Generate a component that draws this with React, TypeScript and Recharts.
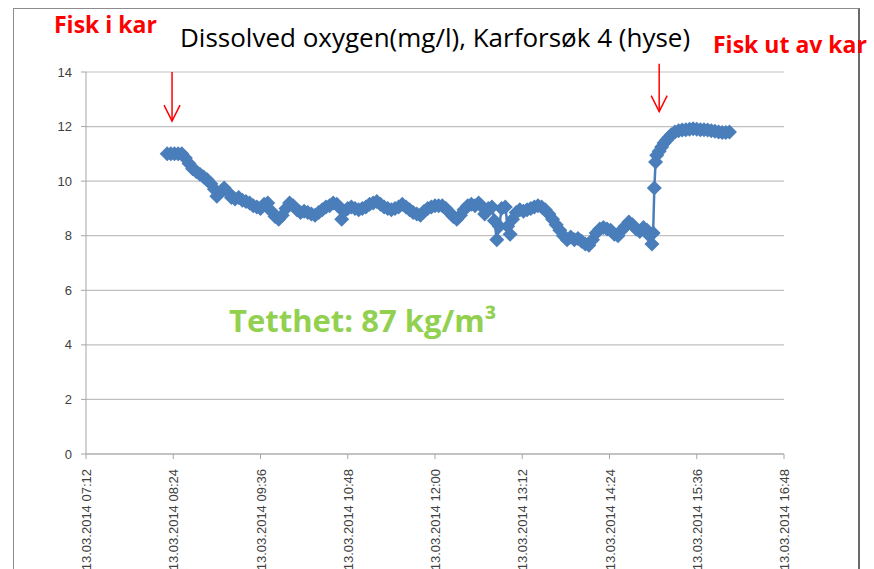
import {
  CartesianGrid,
  Line,
  LineChart,
  ReferenceLine,
  XAxis,
  YAxis,
} from "recharts";

// Logged readings, 13.03.2014 (time of day -> dissolved oxygen, mg/l)
const times = [
  "08:19", "08:22", "08:25", "08:28", "08:31", "08:34", "08:37", "08:40", "08:43", "08:46",
  "08:49", "08:52", "08:55", "08:58", "09:00", "09:03", "09:06", "09:09", "09:12", "09:15",
  "09:18", "09:21", "09:24", "09:27", "09:30", "09:33", "09:36", "09:39", "09:42", "09:45",
  "09:48", "09:51", "09:54", "09:57", "10:00", "10:03", "10:06", "10:09", "10:12", "10:15",
  "10:18", "10:21", "10:24", "10:27", "10:30", "10:33", "10:36", "10:39", "10:42", "10:43",
  "10:45", "10:48", "10:51", "10:54", "10:57", "11:00", "11:03", "11:06", "11:09", "11:12",
  "11:15", "11:18", "11:21", "11:24", "11:27", "11:30", "11:33", "11:36", "11:39", "11:42",
  "11:45", "11:48", "11:51", "11:54", "11:57", "12:00", "12:03", "12:06", "12:09", "12:12",
  "12:15", "12:18", "12:21", "12:24", "12:27", "12:30", "12:33", "12:36", "12:38", "12:41",
  "12:44", "12:47", "12:49", "12:51", "12:53", "12:55", "12:58", "13:00", "13:02", "13:04",
  "13:07", "13:10", "13:13", "13:16", "13:19", "13:22", "13:25", "13:28", "13:31", "13:34",
  "13:37", "13:40", "13:43", "13:46", "13:49", "13:52", "13:55", "13:58", "14:01", "14:04",
  "14:07", "14:10", "14:13", "14:16", "14:19", "14:22", "14:25", "14:28", "14:31", "14:34",
  "14:37", "14:40", "14:43", "14:46", "14:49", "14:52", "14:55", "14:57", "14:59", "15:00",
  "15:01", "15:02", "15:03", "15:05", "15:07", "15:09", "15:11", "15:13", "15:15", "15:18",
  "15:21", "15:24", "15:27", "15:30", "15:33", "15:36", "15:39", "15:42", "15:45", "15:48",
  "15:51", "15:54", "15:57", "16:00", "16:03",
];

const oxygen = [
  11.0, 11.0, 11.0, 11.0, 11.0, 10.85, 10.65, 10.45, 10.35, 10.25,
  10.15, 10.05, 9.9, 9.7, 9.45, 9.6, 9.75, 9.6, 9.4, 9.35,
  9.4, 9.3, 9.25, 9.2, 9.1, 9.05, 9.0, 9.15, 9.2, 8.9,
  8.7, 8.6, 8.75, 9.0, 9.2, 9.1, 8.95, 8.85, 8.9, 8.85,
  8.8, 8.75, 8.85, 8.95, 9.05, 9.1, 9.2, 9.15, 9.0, 8.6,
  8.9, 9.0, 9.05, 9.0, 8.95, 9.0, 9.05, 9.15, 9.2, 9.25,
  9.15, 9.05, 9.0, 8.95, 9.0, 9.05, 9.15, 9.05, 8.95, 8.85,
  8.8, 8.75, 8.9, 9.0, 9.05, 9.1, 9.1, 9.1, 9.0, 8.85,
  8.7, 8.6, 8.75, 8.95, 9.1, 9.15, 9.1, 9.2, 9.1, 8.8,
  9.0, 9.05, 8.55, 7.85, 8.35, 9.0, 9.05, 8.35, 8.05, 8.6,
  8.85, 8.95, 8.9, 8.95, 9.0, 9.05, 9.1, 9.05, 8.95, 8.8,
  8.6, 8.4, 8.2, 8.0, 7.85, 7.95, 7.85, 7.9, 7.8, 7.7,
  7.65, 7.85, 8.1, 8.25, 8.3, 8.25, 8.2, 8.05, 8.0, 8.2,
  8.35, 8.5, 8.4, 8.25, 8.15, 8.3, 8.2, 8.0, 7.7, 8.1,
  9.75, 10.7, 10.95, 11.1, 11.25, 11.4, 11.5, 11.6, 11.7, 11.8,
  11.85, 11.87, 11.88, 11.9, 11.92, 11.9, 11.88, 11.88, 11.87, 11.85,
  11.83, 11.8, 11.78, 11.78, 11.8,
];

const xTicks = ["07:12", "08:24", "09:36", "10:48", "12:00", "13:12", "14:24", "15:36", "16:48"];
const yTicks = [0, 2, 4, 6, 8, 10, 12, 14];
const dateLabel = "13.03.2014";

// arrows: fish in / fish out (time, top value, bottom value)
const arrowTimes = ["08:23", "15:05"];
const arrowTops = [14.0, 14.3];
const arrowBottoms = [12.2, 12.55];

const toMin = (t: string) => {
  const [h, m] = t.split(":").map(Number);
  return h * 60 + m;
};
const fmtMin = (v: number) => {
  const h = Math.floor(v / 60);
  const m = Math.round(v % 60);
  return `${String(h).padStart(2, "0")}:${String(m).padStart(2, "0")}`;
};

const data = times.map((t, i) => ({ t: toMin(t), o2: oxygen[i] }));

const BLUE = "#4A7EBB";
const GRID = "#BFBFBF";
const LABEL = "#404040";

function Diamond(props: any) {
  const { cx, cy } = props;
  if (cx == null || cy == null) return null;
  const r = 7.5;
  return (
    <polygon
      points={`${cx},${cy - r} ${cx + r},${cy} ${cx},${cy + r} ${cx - r},${cy}`}
      fill={BLUE}
      stroke="none"
    />
  );
}

function TimeTick(props: any) {
  const { x, y, payload } = props;
  const ax = x + 5;
  const ay = y + 8;
  return (
    <text
      x={ax}
      y={ay}
      transform={`rotate(-90 ${ax} ${ay})`}
      textAnchor="end"
      fontSize={13}
      fontFamily="'Liberation Sans', Arial, sans-serif"
      fill={LABEL}
    >
      {`${dateLabel} ${fmtMin(payload.value)}`}
    </text>
  );
}

function Arrow(props: any) {
  const { x1, y1, x2, y2 } = props;
  const head = 16;
  return (
    <g stroke="#FF0000" strokeWidth={1.5} fill="none">
      <line x1={x1} y1={y1} x2={x2} y2={y2} />
      <polyline points={`${x2 - 8},${y2 - head} ${x2},${y2} ${x2 + 8},${y2 - head}`} />
    </g>
  );
}

const overlayFont = "'Open Sans', 'Noto Sans', sans-serif";

export default function App() {
  return (
    <div
      style={{
        position: "absolute",
        left: 0,
        top: 0,
        width: 874,
        height: 569,
        overflow: "hidden",
        background: "#fff",
      }}
    >
      <div
        style={{
          position: "absolute",
          left: 13,
          top: 8,
          width: 844,
          height: 580,
          borderLeft: "1px solid #8c8c8c",
          borderTop: "1px solid #8c8c8c",
          borderRight: "2px solid #6a6a6a",
        }}
      />
      <div style={{ position: "absolute", left: 0, top: 0 }}>
        <LineChart
          width={874}
          height={569}
          data={data}
          margin={{ top: 72, right: 90, left: 46, bottom: 0 }}
        >
          <CartesianGrid horizontal vertical={false} stroke={GRID} strokeWidth={1.2} />
          <XAxis
            dataKey="t"
            type="number"
            domain={[toMin(xTicks[0]), toMin(xTicks[xTicks.length - 1])]}
            ticks={xTicks.map(toMin)}
            height={115}
            stroke="#A6A6A6"
            tickSize={5}
            tick={<TimeTick />}
            interval={0}
          />
          <YAxis
            domain={[0, 14]}
            ticks={yTicks}
            width={40}
            stroke="#A6A6A6"
            tickSize={5}
            tickMargin={9}
            tick={{ fontSize: 13, fill: LABEL, fontFamily: "'Liberation Sans', Arial, sans-serif" }}
            interval={0}
          />
          {arrowTimes.map((t, i) => (
            <ReferenceLine
              key={t}
              segment={[
                { x: toMin(t), y: arrowTops[i] },
                { x: toMin(t), y: arrowBottoms[i] },
              ]}
              ifOverflow="visible"
              shape={(p: any) => <Arrow {...p} />}
            />
          ))}
          <Line
            type="linear"
            dataKey="o2"
            stroke={BLUE}
            strokeWidth={2.5}
            dot={<Diamond />}
            activeDot={false}
            isAnimationActive={false}
          />
        </LineChart>
      </div>
      <div
        style={{
          position: "absolute",
          left: 180,
          top: 22,
          fontFamily: overlayFont,
          fontSize: 26,
          fontWeight: 500,
          color: "#000",
          whiteSpace: "nowrap",
          lineHeight: 1.2,
        }}
      >
        Dissolved oxygen(mg/l), Karforsøk 4 (hyse)
      </div>
      <div
        style={{
          position: "absolute",
          left: 54,
          top: 11,
          fontFamily: overlayFont,
          fontWeight: 700,
          fontSize: 23,
          color: "#FF0000",
          whiteSpace: "nowrap",
          lineHeight: 1.2,
        }}
      >
        Fisk i kar
      </div>
      <div
        style={{
          position: "absolute",
          left: 713,
          top: 31,
          fontFamily: overlayFont,
          fontWeight: 700,
          fontSize: 23,
          color: "#FF0000",
          whiteSpace: "nowrap",
          lineHeight: 1.2,
        }}
      >
        Fisk ut av kar
      </div>
      <div
        style={{
          position: "absolute",
          left: 229,
          top: 302,
          fontFamily: overlayFont,
          fontWeight: 700,
          fontSize: 31,
          color: "#92D050",
          whiteSpace: "nowrap",
          lineHeight: 1.2,
        }}
      >
        Tetthet: 87 kg/m³
      </div>
    </div>
  );
}
